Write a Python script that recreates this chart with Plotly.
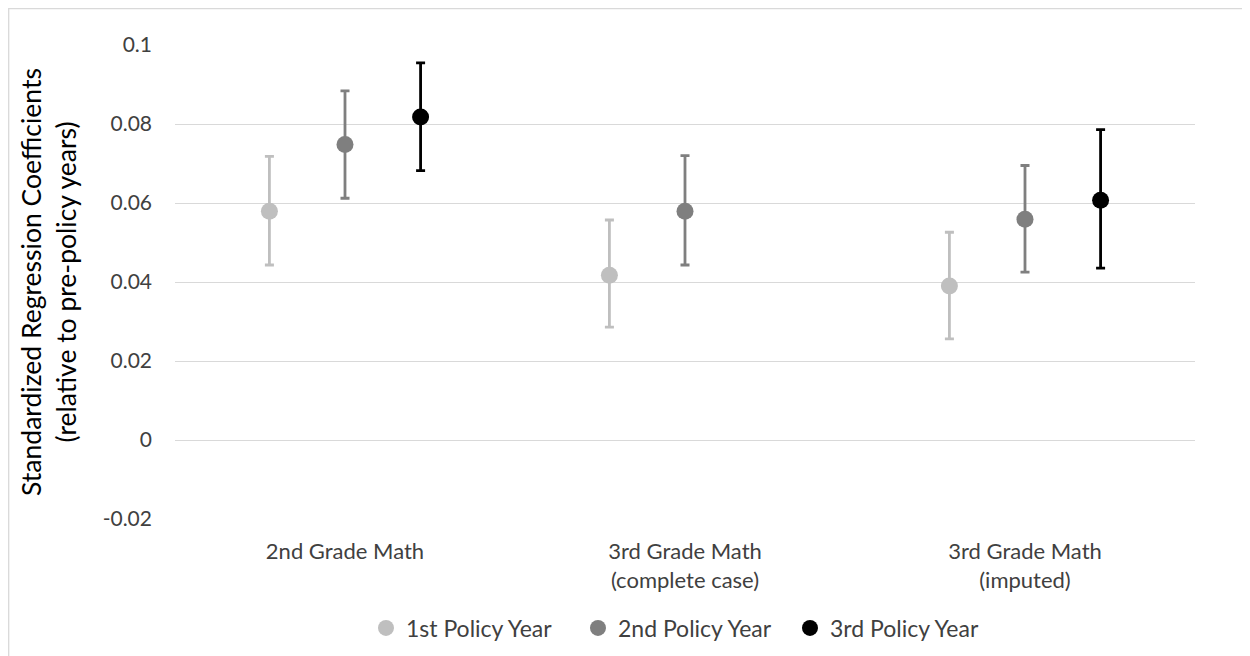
import plotly.graph_objects as go

categories = ["2nd Grade Math", "3rd Grade Math<br>(complete case)", "3rd Grade Math<br>(imputed)"]
series_names = ["1st Policy Year", "2nd Policy Year", "3rd Policy Year"]
series_colors = ["#BFBFBF", "#7F7F7F", "#000000"]

year1_vals = [0.0579, 0.0417, 0.0390]
year1_err_up = [0.0139, 0.0140, 0.0136]
year1_err_dn = [0.0136, 0.0131, 0.0134]

year2_vals = [0.0748, 0.0579, 0.0559]
year2_err_up = [0.0136, 0.0141, 0.0136]
year2_err_dn = [0.0136, 0.0136, 0.0134]

year3_vals = [0.0818, None, 0.0607]
year3_err_up = [0.0137, 0, 0.0179]
year3_err_dn = [0.0136, 0, 0.0172]

y_ticks = [-0.02, 0, 0.02, 0.04, 0.06, 0.08, 0.1]
y_tick_text = ["-0.02", "0", "0.02", "0.04", "0.06", "0.08", "0.1"]

FONT = "Lato"
TXT = "#404040"

fig = go.Figure()
for name, color, vals, up, dn in zip(
    series_names, series_colors,
    [year1_vals, year2_vals, year3_vals],
    [year1_err_up, year2_err_up, year3_err_up],
    [year1_err_dn, year2_err_dn, year3_err_dn],
):
    fig.add_trace(go.Scatter(
        x=categories, y=vals, name=name, mode="markers",
        marker=dict(color=color, size=17, line=dict(width=0)),
        error_y=dict(type="data", array=up, arrayminus=dn, symmetric=False,
                     color=color, thickness=2.8, width=4.5),
    ))

W, H = 1242, 648
L, R, T, B = 167, 55, 37, 137
plot_w = W - L - R
plot_h = H - T - B

fig.update_layout(
    width=W, height=H,
    paper_bgcolor="white", plot_bgcolor="white",
    margin=dict(l=L, r=R, t=T, b=B, autoexpand=False),
    scattermode="group", scattergap=0.333,
    font=dict(family=FONT, color=TXT, size=21),
    showlegend=True,
    legend=dict(orientation="h", x=0.499, xanchor="center",
                y=(plot_h - (620 - T)) / plot_h, yanchor="middle",
                font=dict(size=23, color=TXT), itemwidth=30,
                entrywidth=167, entrywidthmode="pixels",
                traceorder="normal"),
    shapes=[dict(type="rect", xref="paper", yref="paper",
                 x0=(0.7 - L) / plot_w, x1=1.2, y0=-0.4,
                 y1=(plot_h + T - 0.7) / plot_h,
                 line=dict(color="#D9D9D9", width=1.3), layer="below")],
)
fig.update_xaxes(type="category", range=[-0.5, 2.5], showgrid=False, showline=False,
                 ticks="", ticklabelstandoff=17, automargin=False,
                 tickfont=dict(size=22, color=TXT))
fig.update_yaxes(range=[-0.02, 0.1], tickvals=y_ticks, ticktext=y_tick_text,
                 showgrid=True, gridcolor="#D9D9D9", gridwidth=1.3,
                 zeroline=False, showline=False, ticks="",
                 ticklabelstandoff=22, automargin=False,
                 tickfont=dict(size=21, color=TXT),
                 title=dict(text="Standardized Regression Coefficients<br>(relative to pre-policy years)",
                            font=dict(size=26.5, color="#000000"), standoff=18))

fig.write_html("out.html")
